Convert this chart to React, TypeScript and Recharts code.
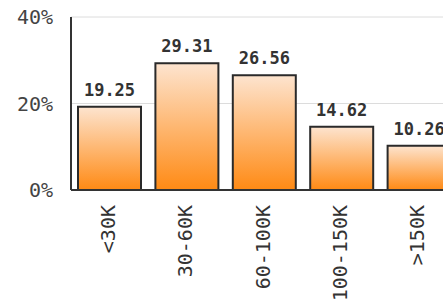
import React from "react";
import { BarChart, Bar, XAxis, YAxis, CartesianGrid, LabelList } from "recharts";

const categories = ["<30K", "30-60K", "60-100K", "100-150K", ">150K"];
const shares = [19.25, 29.31, 26.56, 14.62, 10.26];
const yTicks = [0, 20, 40];

const data = categories.map((c, i) => ({ name: c, value: shares[i] }));

const XTick = (props: any) => {
  const { x, y, payload } = props;
  return (
    <text
      transform={`translate(${x - 2},${y + 13}) rotate(-90)`}
      textAnchor="end"
      dominantBaseline="central"
      fontFamily="'DejaVu Sans Mono', monospace"
      fontSize={20}
      fill="#333"
    >
      {payload.value}
    </text>
  );
};

export default function App() {
  return (
    <div style={{ position: "absolute", left: 0, top: 0, width: 443, height: 301, overflow: "hidden", background: "#fff" }}>
      <BarChart
        width={460}
        height={301}
        data={data}
        margin={{ top: 17, right: 2, bottom: 0, left: 0 }}
        barSize={63}
      >
        <defs>
          <linearGradient id="barGrad" x1="0" y1="0" x2="0" y2="1">
            <stop offset="0%" stopColor="#fde4cf" />
            <stop offset="100%" stopColor="#ff8a14" />
          </linearGradient>
        </defs>
        <CartesianGrid vertical={false} stroke="#dcdcdc" strokeWidth={1} />
        <XAxis
          dataKey="name"
          height={111}
          tickLine={false}
          tickSize={0}
          interval={0}
          axisLine={{ stroke: "#333", strokeWidth: 2 }}
          tick={<XTick />}
        />
        <YAxis
          width={71}
          domain={[0, 40]}
          ticks={yTicks}
          tickFormatter={(v: number) => `${v}%`}
          tickLine={false}
          tickSize={0}
          tickMargin={18}
          axisLine={{ stroke: "#333", strokeWidth: 2 }}
          tick={{ fontFamily: "'DejaVu Sans Mono', monospace", fontSize: 20, fill: "#444" }}
        />
        <Bar dataKey="value" fill="url(#barGrad)" stroke="#2a2a2a" strokeWidth={2} isAnimationActive={false}>
          <LabelList
            dataKey="value"
            position="top"
            offset={11}
            formatter={(v: number) => v.toFixed(2)}
            style={{ fontFamily: "'DejaVu Sans Mono', monospace", fontSize: 17, fontWeight: "bold", fill: "#333" }}
          />
        </Bar>
      </BarChart>
    </div>
  );
}
